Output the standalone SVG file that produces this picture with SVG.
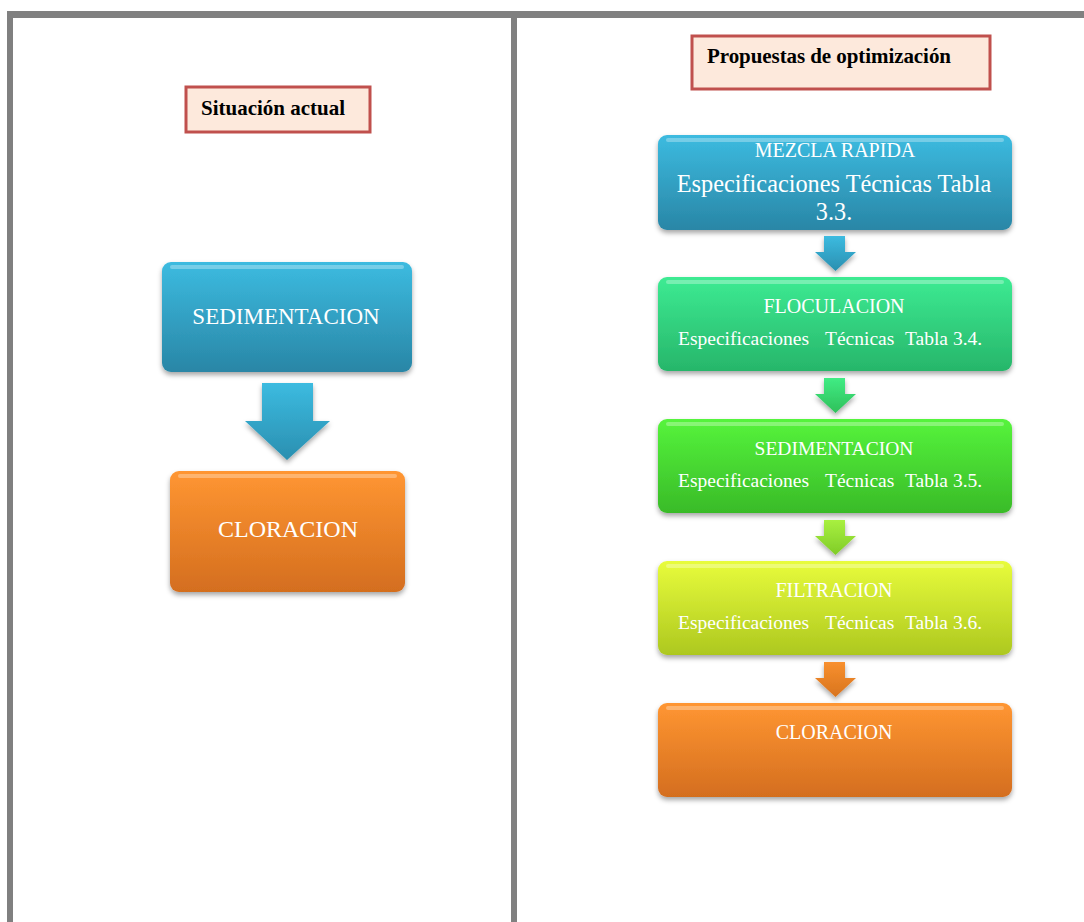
<svg xmlns="http://www.w3.org/2000/svg" width="1084" height="922" viewBox="0 0 1084 922">
<defs>
<linearGradient id="gBlue" x1="0" y1="0" x2="0" y2="1"><stop offset="0" stop-color="#3cbbe0"/><stop offset="1" stop-color="#2986a6"/></linearGradient>
<linearGradient id="gGreen1" x1="0" y1="0" x2="0" y2="1"><stop offset="0" stop-color="#3deb93"/><stop offset="1" stop-color="#27b66a"/></linearGradient>
<linearGradient id="gGreen2" x1="0" y1="0" x2="0" y2="1"><stop offset="0" stop-color="#56f43c"/><stop offset="1" stop-color="#39bb28"/></linearGradient>
<linearGradient id="gYellow" x1="0" y1="0" x2="0" y2="1"><stop offset="0" stop-color="#e8fc3c"/><stop offset="1" stop-color="#adc81f"/></linearGradient>
<linearGradient id="gOrange" x1="0" y1="0" x2="0" y2="1"><stop offset="0" stop-color="#ff9632"/><stop offset="1" stop-color="#d46e1f"/></linearGradient>
<linearGradient id="aBlue" x1="0" y1="0" x2="0" y2="1"><stop offset="0" stop-color="#3cbbe0"/><stop offset="1" stop-color="#2a8fb0"/></linearGradient>
<linearGradient id="aGreen1" x1="0" y1="0" x2="0" y2="1"><stop offset="0" stop-color="#40ec84"/><stop offset="1" stop-color="#2fc05a"/></linearGradient>
<linearGradient id="aGreen2" x1="0" y1="0" x2="0" y2="1"><stop offset="0" stop-color="#a8f040"/><stop offset="1" stop-color="#80cc28"/></linearGradient>
<linearGradient id="aOrange" x1="0" y1="0" x2="0" y2="1"><stop offset="0" stop-color="#f8902e"/><stop offset="1" stop-color="#d8741e"/></linearGradient>
<filter id="sh" x="-10%" y="-10%" width="120%" height="130%"><feDropShadow dx="0" dy="3" stdDeviation="2.5" flood-color="#000" flood-opacity="0.35"/></filter>
</defs>
<style>
.frame{fill:#808080}
.title rect{fill:#fde9dc;stroke:#c0504d;stroke-width:3}
.title text{font-family:"Liberation Serif",serif;font-weight:bold;font-size:21px;fill:#000}
.box rect.b{filter:url(#sh)}
.box rect.hl{fill:#ffffff;opacity:0.3}
.box text{font-family:"Liberation Serif",serif;fill:#ffffff;text-anchor:middle}
.box text.spec{text-anchor:start;font-size:19.5px}
.conn path{filter:url(#sh)}
</style>

<g id="frame">
<rect class="frame" x="7" y="11" width="1077" height="7"/>
<rect class="frame" x="7" y="11" width="6" height="911"/>
<rect class="frame" x="511" y="11" width="6" height="911"/>
</g>

<g id="title-actual" class="title">
<rect x="186" y="87" width="184" height="45"/>
<text x="201" y="115" textLength="144" lengthAdjust="spacing">Situación actual</text>
</g>
<g id="title-propuestas" class="title">
<rect x="692" y="36" width="298" height="53"/>
<text x="707" y="63" textLength="244" lengthAdjust="spacing">Propuestas de optimización</text>
</g>

<g id="left-sedimentacion" class="box">
<rect class="b" x="162" y="262" width="250" height="110" rx="9" fill="url(#gBlue)"/>
<rect class="hl" x="170" y="265" width="234" height="4" rx="2"/>
<text x="286" y="324" font-size="23">SEDIMENTACION</text>
</g>
<g id="left-cloracion" class="box">
<rect class="b" x="170" y="471" width="235" height="121" rx="9" fill="url(#gOrange)"/>
<rect class="hl" x="178" y="474" width="219" height="4" rx="2"/>
<text x="288" y="537" font-size="24">CLORACION</text>
</g>

<g id="right-mezcla" class="box">
<rect class="b" x="658" y="135" width="354" height="95" rx="9" fill="url(#gBlue)"/>
<rect class="hl" x="666" y="138" width="338" height="4" rx="2"/>
<text x="835" y="157" font-size="20">MEZCLA RAPIDA</text>
<text x="834" y="192" font-size="24.3">Especificaciones Técnicas Tabla</text>
<text x="834" y="220" font-size="24.3">3.3.</text>
</g>
<g id="right-floculacion" class="box">
<rect class="b" x="658" y="277" width="354" height="94" rx="9" fill="url(#gGreen1)"/>
<rect class="hl" x="666" y="280" width="338" height="4" rx="2"/>
<text x="834" y="313" font-size="20">FLOCULACION</text>
<text class="spec" y="345"><tspan x="678">Especificaciones</tspan><tspan x="825">Técnicas</tspan><tspan x="905">Tabla 3.4.</tspan></text>
</g>
<g id="right-sedimentacion" class="box">
<rect class="b" x="658" y="419" width="354" height="94" rx="9" fill="url(#gGreen2)"/>
<rect class="hl" x="666" y="422" width="338" height="4" rx="2"/>
<text x="834" y="455" font-size="19.5">SEDIMENTACION</text>
<text class="spec" y="487"><tspan x="678">Especificaciones</tspan><tspan x="825">Técnicas</tspan><tspan x="905">Tabla 3.5.</tspan></text>
</g>
<g id="right-filtracion" class="box">
<rect class="b" x="658" y="561" width="354" height="94" rx="9" fill="url(#gYellow)"/>
<rect class="hl" x="666" y="564" width="338" height="4" rx="2"/>
<text x="834" y="597" font-size="20">FILTRACION</text>
<text class="spec" y="629"><tspan x="678">Especificaciones</tspan><tspan x="825">Técnicas</tspan><tspan x="905">Tabla 3.6.</tspan></text>
</g>
<g id="right-cloracion" class="box">
<rect class="b" x="658" y="703" width="354" height="94" rx="9" fill="url(#gOrange)"/>
<rect class="hl" x="666" y="706" width="338" height="4" rx="2"/>
<text x="834" y="739" font-size="20">CLORACION</text>
</g>

<g id="connectors" class="conn">
<path d="M262,383 H313 V421 H330 L287,460 L245,421 H262 Z" fill="url(#aBlue)"/>
<path d="M824,236 H845 V252 H856 L835.5,271 L815,252 H824 Z" fill="url(#aBlue)"/>
<path d="M824,378 H845 V394 H856 L835.5,413 L815,394 H824 Z" fill="url(#aGreen1)"/>
<path d="M824,520 H845 V536 H856 L835.5,555 L815,536 H824 Z" fill="url(#aGreen2)"/>
<path d="M824,662 H845 V678 H856 L835.5,697 L815,678 H824 Z" fill="url(#aOrange)"/>
</g>
</svg>
